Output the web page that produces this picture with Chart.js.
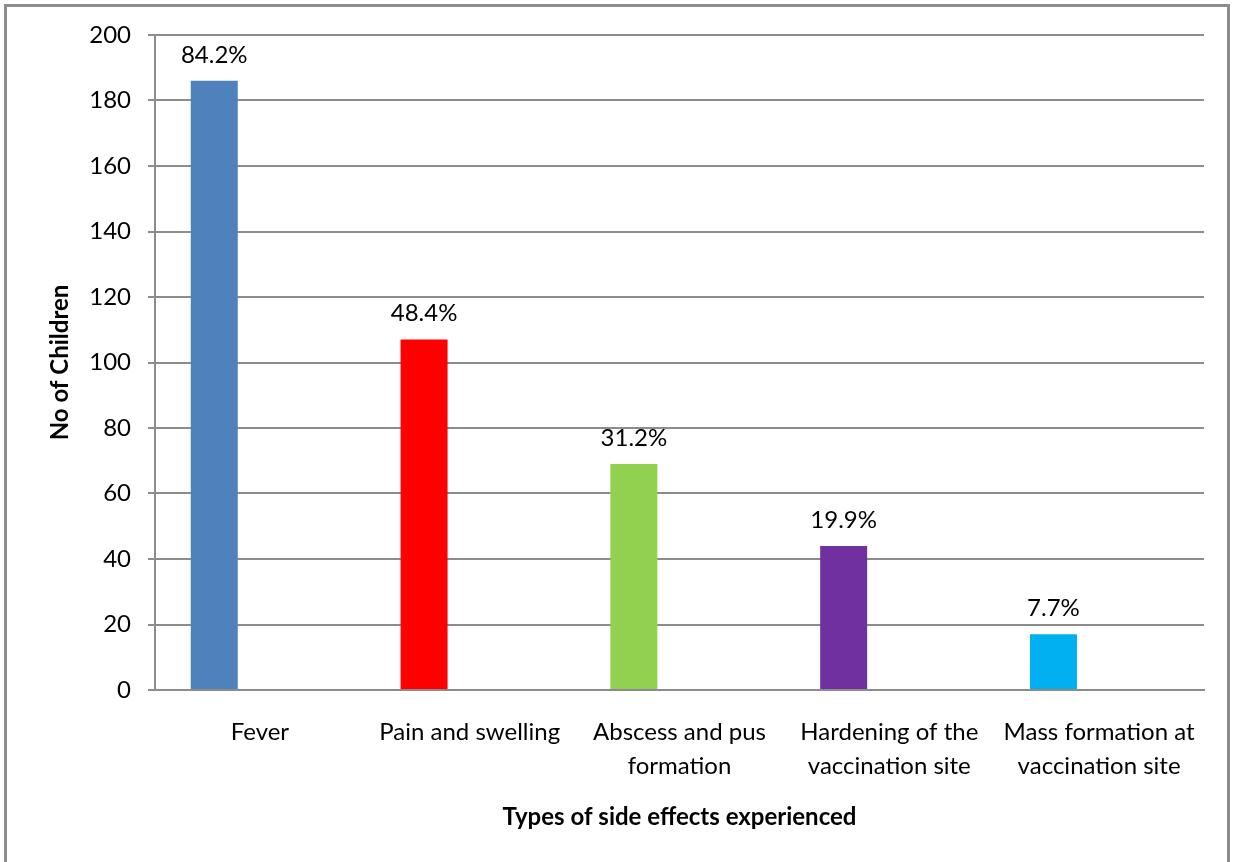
<!DOCTYPE html>
<html>
<head>
<meta charset="utf-8">
<script src="https://cdn.jsdelivr.net/npm/chart.js@4.4.1/dist/chart.umd.min.js"></script>
<style>
  html, body { margin: 0; padding: 0; background: #fff; }
  #wrap { width: 1233px; height: 862px; position: relative; }
</style>
</head>
<body>
<div id="wrap"><canvas id="chart" width="1233" height="862"></canvas></div>
<script>
const categories = [
    ['Fever'],
    ['Pain and swelling'],
    ['Abscess and pus', 'formation'],
    ['Hardening of the', 'vaccination site'],
    ['Mass formation at', 'vaccination site']
];
const childCounts = [186, 107, 69, 44, 17];
const percentLabels = ['84.2%', '48.4%', '31.2%', '19.9%', '7.7%'];
const barColors = ['#4F81BD', '#FF0000', '#92D050', '#7030A0', '#00B0F0'];
const yTicks = [0, 20, 40, 60, 80, 100, 120, 140, 160, 180, 200];

const FONT = 'Lato, "Open Sans", sans-serif';
const GRID = '#8c8c8c';

// outer frame round the chart (bottom edge falls outside the picture)
const framePlugin = {
    id: 'frame',
    beforeDraw(chart) {
        const ctx = chart.ctx;
        ctx.save();
        ctx.fillStyle = '#fff';
        ctx.fillRect(0, 0, chart.width, chart.height);
        ctx.strokeStyle = '#8c8c8c';
        ctx.lineWidth = 3;
        ctx.strokeRect(5.5, 5.5, chart.width - 10, chart.height + 20);
        ctx.restore();
    }
};

// percentage labels above each bar
const percentPlugin = {
    id: 'percent',
    afterDatasetsDraw(chart) {
        const ctx = chart.ctx;
        const meta = chart.getDatasetMeta(0);
        ctx.save();
        ctx.font = '24px ' + FONT;
        ctx.fillStyle = '#000';
        ctx.textAlign = 'center';
        ctx.textBaseline = 'middle';
        meta.data.forEach((bar, i) => {
            ctx.fillText(percentLabels[i], bar.x, bar.y - 26);
        });
        ctx.restore();
    }
};

new Chart(document.getElementById('chart'), {
    type: 'bar',
    data: {
        labels: categories,
        datasets: [{
            label: 'No of Children',
            data: childCounts,
            backgroundColor: barColors,
            categoryPercentage: 0.87,
            barPercentage: 0.515
        }, {
            // empty second series, keeps the bars off-centre like the original
            label: '',
            data: childCounts.map(() => null),
            categoryPercentage: 0.87,
            barPercentage: 0.515
        }]
    },
    options: {
        responsive: false,
        animation: false,
        layout: { padding: { top: 35, right: 29, left: 0, bottom: 0 } },
        plugins: {
            legend: { display: false },
            tooltip: { enabled: false }
        },
        scales: {
            x: {
                grid: { display: false, drawTicks: false },
                border: { display: true, color: GRID, width: 2 },
                ticks: {
                    color: '#000',
                    font: { family: FONT, size: 24, lineHeight: 1.42 },
                    padding: 25,
                    maxRotation: 0,
                    autoSkip: false
                },
                title: {
                    display: true,
                    text: 'Types of side effects experienced',
                    color: '#000',
                    font: { family: FONT, size: 24, weight: 'bold' },
                    padding: { top: 0, bottom: 30 }
                },
                afterFit(scale) { scale.height = 172; }
            },
            y: {
                min: 0,
                max: 200,
                afterBuildTicks(scale) { scale.ticks = yTicks.map(v => ({ value: v })); },
                grid: { color: GRID, lineWidth: 2, tickLength: 7 },
                border: { display: true, color: GRID, width: 2 },
                ticks: {
                    color: '#000',
                    font: { family: FONT, size: 24 },
                    padding: 17
                },
                title: {
                    display: true,
                    text: 'No of Children',
                    color: '#000',
                    font: { family: FONT, size: 24, weight: 'bold' },
                    padding: { top: 46, bottom: 0 }
                },
                afterFit(scale) { scale.width = 155; }
            }
        }
    },
    plugins: [framePlugin, percentPlugin]
});
</script>
</body>
</html>
